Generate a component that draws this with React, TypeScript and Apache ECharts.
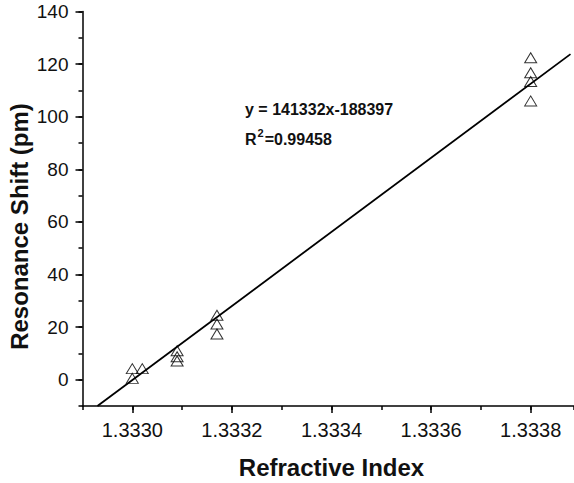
import React, { useEffect, useRef } from "react";
import * as echarts from "echarts";

const xMajorTicks = [1.333, 1.3332, 1.3334, 1.3336, 1.3338];
const yMajorTicks = [0, 20, 40, 60, 80, 100, 120, 140];

const measuredX = [1.333, 1.333, 1.33302, 1.33309, 1.33309, 1.33309, 1.33317, 1.33317, 1.33317, 1.3338, 1.3338, 1.3338, 1.3338];
const measuredY = [4.2, 0.5, 4.2, 11.0, 8.7, 7.1, 24.5, 21.2, 17.4, 122.4, 116.7, 113.4, 106.0];

const fitX = [1.33293, 1.33388];
const fitY = [-10, 123.8];

const equationText = "y = 141332x-188397";
const r2Value = "0.99458";

const FONT = "'Liberation Sans', Arial, Helvetica, sans-serif";

export default function App() {
  const ref = useRef<HTMLDivElement>(null);
  useEffect(() => {
    if (!ref.current) return;
    const chart = echarts.init(ref.current, null, { renderer: "svg" });
    const xMin = 1.3329;
    const xMax = 1.333887;
    const yMin = -10;
    const yMax = 140;
    chart.setOption({
      animation: false,
      backgroundColor: "#fff",
      grid: { left: 82.5, right: 0, top: 11.5, bottom: 77, containLabel: false },
      xAxis: [
        {
          type: "value",
          min: xMin,
          max: xMax,
          position: "bottom",
          axisLine: { show: true, onZero: false, lineStyle: { color: "#000", width: 1.5 } },
          axisTick: { show: true, inside: false, length: 7, customValues: xMajorTicks, lineStyle: { color: "#000", width: 1.5 } },
          axisLabel: {
            show: true,
            customValues: xMajorTicks,
            margin: 14,
            color: "#111",
            fontSize: 20,
            fontFamily: FONT,
            formatter: (v: number) => v.toFixed(4),
          },
          splitLine: { show: false },
        },
        {
          type: "value",
          min: xMin,
          max: xMax,
          interval: 0.0001,
          position: "bottom",
          axisLine: { show: false, onZero: false },
          axisTick: { show: true, inside: false, length: 4, lineStyle: { color: "#000", width: 1.5 } },
          axisLabel: { show: false },
          splitLine: { show: false },
        },
      ],
      yAxis: [
        {
          type: "value",
          min: yMin,
          max: yMax,
          position: "left",
          axisLine: { show: true, onZero: false, lineStyle: { color: "#000", width: 1.5 } },
          axisTick: { show: true, inside: false, length: 7, customValues: yMajorTicks, lineStyle: { color: "#000", width: 1.5 } },
          axisLabel: {
            show: true,
            customValues: yMajorTicks,
            margin: 14,
            color: "#111",
            fontSize: 19,
            fontFamily: FONT,
          },
          splitLine: { show: false },
        },
        {
          type: "value",
          min: yMin,
          max: yMax,
          interval: 10,
          position: "left",
          axisLine: { show: false, onZero: false },
          axisTick: { show: true, inside: false, length: 4, lineStyle: { color: "#000", width: 1.5 } },
          axisLabel: { show: false },
          splitLine: { show: false },
        },
      ],
      series: [
        {
          type: "line",
          xAxisIndex: 0,
          yAxisIndex: 0,
          data: fitX.map((x, i) => [x, fitY[i]]),
          symbol: "none",
          lineStyle: { color: "#000", width: 1.8 },
          silent: true,
          z: 2,
        },
        {
          type: "scatter",
          xAxisIndex: 0,
          yAxisIndex: 0,
          data: measuredX.map((x, i) => [x, measuredY[i]]),
          symbol: "triangle",
          symbolSize: [12, 10],
          itemStyle: { color: "rgba(0,0,0,0)", borderColor: "#000", borderWidth: 1 },
          z: 3,
        },
      ],
      graphic: [
        {
          type: "text",
          left: 245,
          top: 101,
          style: {
            text: equationText,
            fontSize: 16,
            fontWeight: "bold",
            fontFamily: FONT,
            fill: "#111",
          },
        },
        {
          type: "text",
          left: 245,
          top: 127,
          style: {
            text: "{b|R}{s|2}{b|=" + r2Value + "}",
            fontFamily: FONT,
            rich: {
              b: { fontSize: 16, fontWeight: "bold", fontFamily: FONT, fill: "#111", lineHeight: 20, verticalAlign: "bottom" },
              s: { fontSize: 11, fontWeight: "bold", fontFamily: FONT, fill: "#111", lineHeight: 20, verticalAlign: "top", padding: [0, 1, 0, 1] },
            },
          },
        },
        {
          type: "text",
          x: 331.5,
          y: 467,
          style: {
            text: "Refractive Index",
            fontSize: 24,
            fontWeight: "bold",
            fontFamily: FONT,
            fill: "#111",
            align: "center",
            verticalAlign: "middle",
          },
        },
        {
          type: "text",
          x: 19,
          y: 226.5,
          rotation: Math.PI / 2,
          style: {
            text: "Resonance Shift (pm)",
            fontSize: 24,
            fontWeight: "bold",
            fontFamily: FONT,
            fill: "#111",
            align: "center",
            verticalAlign: "middle",
          },
        },
      ],
    });
    return () => chart.dispose();
  }, []);
  return <div ref={ref} style={{ position: "fixed", left: 0, top: 0, width: 574, height: 483 }} />;
}
